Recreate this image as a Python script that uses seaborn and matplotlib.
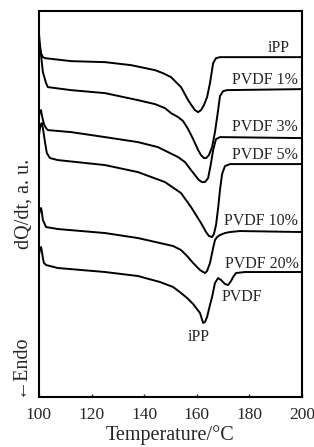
import numpy as np
import pandas as pd
import matplotlib
matplotlib.use("Agg")
import matplotlib.pyplot as plt
import seaborn as sns

# DSC curves (temperature in C, heat flow in arbitrary units)
temp_ipp = [100.0, 100.4, 100.8, 101.5, 102.3, 112.2, 125.1, 135.0, 144.1, 147.1, 150.2, 154.0,
            156.7, 158.2, 159.3, 160.5, 161.6, 162.7, 163.9, 165.0, 166.2, 167.3, 168.8, 200.0]
dq_ipp = [364, 352, 344, 340, 339, 336, 335, 332, 327, 324, 320, 310,
          297, 291, 287, 285, 287, 292, 300, 314, 334, 339, 340, 340]

temp_pvdf1 = [100.0, 100.8, 101.5, 102.7, 103.4, 112.2, 125.1, 137.6, 144.1, 147.9, 150.2, 152.9, 154.8,
              156.7, 158.6, 160.5, 161.6, 162.7, 163.5, 164.6, 165.8, 166.9, 168.1, 168.8, 170.0, 171.5, 200.0]
dq_pvdf1 = [355, 342, 325, 314, 310, 307, 304, 297, 293, 289, 284, 280, 276,
            268, 258, 247, 242, 239, 239, 242, 250, 265, 287, 301, 306, 307, 308]

temp_pvdf3 = [100.0, 100.4, 100.8, 101.1, 101.9, 102.7, 103.4, 112.2, 125.1, 137.6, 145.2, 152.9,
              155.5, 157.8, 159.3, 160.8, 162.0, 163.1, 164.3, 165.4, 166.2, 167.3, 168.8, 200.0]
dq_pvdf3 = [281, 286, 287, 282, 273, 269, 267, 265, 260, 255, 250, 240,
            235, 227, 222, 217, 215, 215, 219, 234, 247, 258, 260, 259]

temp_pvdf5 = [100.0, 100.4, 100.8, 101.1, 101.5, 102.3, 103.0, 104.2, 107.2, 125.1, 137.6, 147.9, 154.0,
              157.8, 159.7, 161.6, 163.5, 164.6, 165.8, 166.5, 167.3, 168.1, 168.8, 169.6, 170.7, 172.6, 200.0]
dq_pvdf5 = [262, 269, 273, 274, 269, 255, 244, 239, 237, 232, 225, 215, 204,
            190, 182, 174, 165, 161, 160, 163, 172, 189, 207, 223, 231, 233, 233]

temp_pvdf10 = [100.0, 100.4, 100.8, 101.1, 101.5, 102.7, 107.2, 125.1, 137.6, 146.0, 151.0, 154.0, 156.3,
               158.6, 161.2, 162.4, 163.1, 163.9, 165.0, 166.2, 166.9, 167.7, 168.8, 170.7, 172.6, 176.4, 200.0]
dq_pvdf10 = [182, 187, 189, 185, 177, 170, 168, 164, 159, 154, 151, 147, 141,
             134, 127, 125, 124, 126, 134, 149, 157, 160, 162, 164, 165, 166, 165]

temp_pvdf20 = [100.0, 100.4, 100.8, 101.1, 101.5, 101.9, 102.7, 107.2, 125.1, 137.6, 146.0, 151.0, 154.0,
               156.3, 158.6, 161.2, 162.4, 163.1, 163.9, 165.0, 165.8, 166.9, 168.1, 169.2, 170.7, 171.9,
               173.0, 173.8, 174.9, 178.3, 200.0]
dq_pvdf20 = [142, 148, 150, 146, 139, 134, 132, 129, 125, 121, 115, 110, 104,
             99, 93, 84, 74, 75, 80, 92, 100, 114, 119, 117, 113, 112,
             116, 120, 124, 125, 125]

series_names = ["iPP", "PVDF 1%", "PVDF 3%", "PVDF 5%", "PVDF 10%", "PVDF 20%"]
all_temps = [temp_ipp, temp_pvdf1, temp_pvdf3, temp_pvdf5, temp_pvdf10, temp_pvdf20]
all_dq = [dq_ipp, dq_pvdf1, dq_pvdf3, dq_pvdf5, dq_pvdf10, dq_pvdf20]

# curve labels: (text, temperature, level, alignment)
curve_labels = [
    ("iPP", 195.4, 349, "right"),
    ("PVDF 1%", 198.3, 317, "right"),
    ("PVDF 3%", 198.3, 270, "right"),
    ("PVDF 5%", 198.3, 242, "right"),
    ("PVDF 10%", 198.3, 176, "right"),
    ("PVDF 20%", 198.6, 133, "right"),
    ("PVDF", 169.6, 100, "left"),
    ("iPP", 160.8, 60, "center"),
]

x_ticks = [100, 120, 140, 160, 180, 200]

frames = []
for name, t, q in zip(series_names, all_temps, all_dq):
    frames.append(pd.DataFrame({"T": t, "dQ": q, "sample": name}))
df = pd.concat(frames, ignore_index=True)

sns.set_style("ticks")
plt.rcParams["font.family"] = ["Liberation Serif", "DejaVu Serif"]

fig = plt.figure(figsize=(3.14, 4.47), dpi=100)
ax = fig.add_axes([0.124, 0.112, 0.838, 0.863])

sns.lineplot(data=df, x="T", y="dQ", hue="sample", units="sample", estimator=None,
             sort=False, palette=["black"] * 6, linewidth=1.4, legend=False, ax=ax)

for text, tx, ty, ha in curve_labels:
    ax.text(tx, ty, text, ha=ha, va="center", fontsize=11.5)

ax.set_xlim(100, 200)
ax.set_ylim(0, 386)
ax.set_xticks(x_ticks)
ax.set_yticks([])
ax.tick_params(axis="x", direction="in", length=2, width=1, labelsize=12.5, pad=7)
for s in ax.spines.values():
    s.set_linewidth(1.5)
    s.set_color("black")

ax.set_xlabel("Temperature/°C", fontsize=14.5, labelpad=2)
ax.set_ylabel("")
fig.text(0.075, 0.544, "dQ/dt, a. u.", rotation=90, ha="center", va="center", fontsize=14.5)
fig.text(0.063, 0.183, "←Endo", rotation=90, ha="center", va="center", fontsize=14.5)

fig.savefig("out.png", dpi=100)
